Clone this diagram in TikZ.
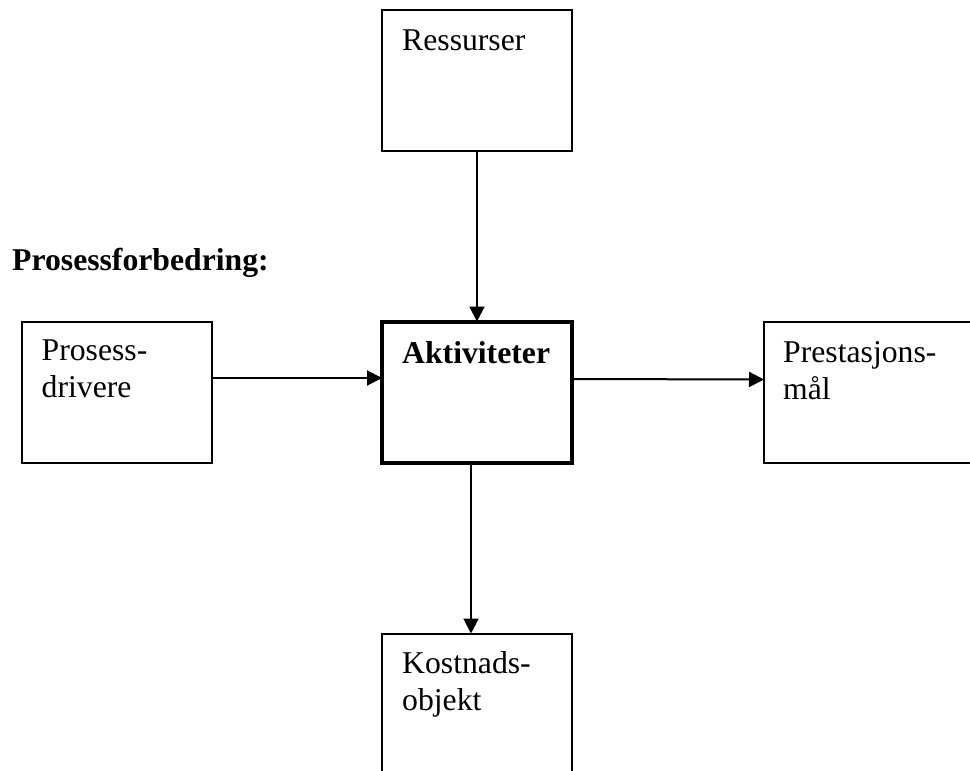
\documentclass[tikz,border=0pt]{standalone}
\usepackage{fontspec}
\setmainfont{Liberation Serif}
\usetikzlibrary{arrows.meta}
\begin{document}
\begin{tikzpicture}[x=1pt,y=-1pt,
  box/.style={draw=black,line width=2pt,minimum width=190pt,minimum height=141pt,inner sep=0pt,outer sep=0pt},
  mainbox/.style={box,line width=4pt},
  lbl/.style={anchor=base west,align=left,inner sep=0pt,font=\fontsize{31.7}{37}\selectfont},
  arr/.style={line width=2pt,-{Triangle[length=15pt,width=15pt]}}]
\clip (0,0) rectangle (970,771);
\fill[white] (0,0) rectangle (970,771);
\node[box] (res) at (477,80) {};
\node[mainbox] (akt) at (477,392) {};
\node[box] (drv) at (116.5,392) {};
\node[box,minimum width=230pt] (pre) at (879,392.5) {};
\node[box] (kos) at (477,704) {};
\node[lbl] (tres) at ([shift={(20,41)}]res.north west) {Ressurser};
\node[lbl,font=\fontsize{31.7}{37}\selectfont\bfseries] (takt) at ([shift={(20,42)}]akt.north west) {Aktiviteter};
\node[lbl] (tdrv) at ([shift={(20,76)}]drv.north west) {Prosess-\\drivere};
\node[lbl] (tpre) at ([shift={(19,77)}]pre.north west) {Prestasjons-\\mål};
\node[lbl] (tkos) at ([shift={(20,77)}]kos.north west) {Kostnads-\\objekt};
\node[lbl,font=\fontsize{31.7}{37}\selectfont\bfseries] (title) at (12,270) {Prosessforbedring:};
\draw[arr] (res.south) -- (akt.north);
\draw[arr] ([yshift=14pt]drv.east) -- ([yshift=14pt]akt.west);
\draw[arr] ([yshift=13pt]akt.east) -- ([yshift=13pt]pre.west);
\draw[arr] ([xshift=-6pt]akt.south) -- ([xshift=-6pt]kos.north);
\end{tikzpicture}
\end{document}
